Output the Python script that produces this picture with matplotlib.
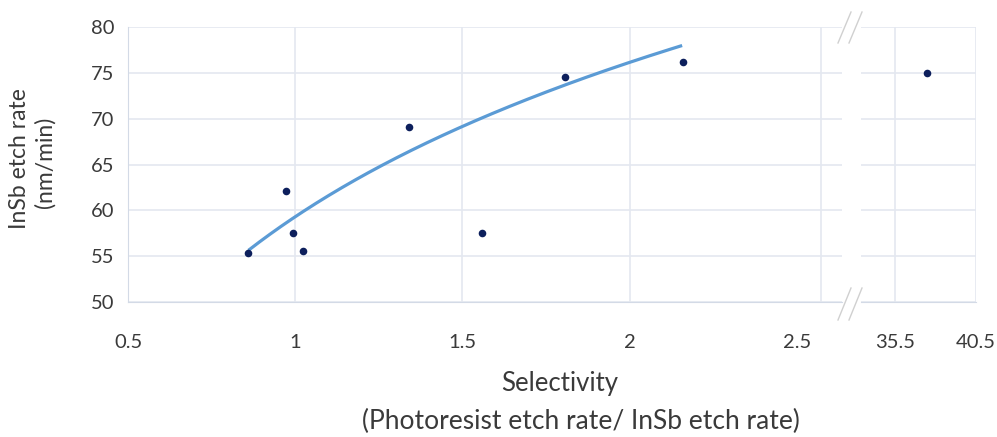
import matplotlib
matplotlib.use("Agg")
import matplotlib.pyplot as plt
from matplotlib.lines import Line2D
import numpy as np

# data
selectivity = [0.860, 0.973, 0.992, 1.023, 1.341, 1.559, 1.807, 2.159]
etch_rate = [55.3, 62.1, 57.5, 55.6, 69.1, 57.5, 74.6, 76.2]
outlier_sel = [37.46]
outlier_rate = [75.0]

# logarithmic trendline y = a*ln(x) + b, drawn between these x
trend_a = 24.3
trend_b = 59.3
trend_x_range = (0.86, 2.157)

left_ticks = [0.5, 1, 1.5, 2, 2.5]
left_tick_labels = ["0.5", "1", "1.5", "2", "2.5"]
right_ticks = [35.5, 40.5]
right_tick_labels = ["35.5", "40.5"]
y_ticks = [50, 55, 60, 65, 70, 75, 80]

plt.rcParams['font.family'] = ['Lato', 'DejaVu Sans']

DOT = '#0d1f5c'
LINE = '#5b9bd5'
GRID = '#e4e8f0'
SPINE = '#d3dae6'
TXT = '#3a3a3a'

fig = plt.figure(figsize=(9.97, 4.37), dpi=100)
W, H = 997, 437

def box(x0, x1, ytop, ybot):
    return [x0 / W, 1 - ybot / H, (x1 - x0) / W, (ybot - ytop) / H]

ax = fig.add_axes(box(128, 842, 27, 302))
ax2 = fig.add_axes(box(861, 976, 27, 302))

for a in (ax, ax2):
    a.set_ylim(50, 80)
    a.set_yticks(y_ticks)
    a.grid(axis='y', color=GRID, linewidth=1.2)
    a.set_axisbelow(True)
    for s in a.spines.values():
        s.set_visible(False)
    a.tick_params(length=0, labelsize=14.5, labelcolor=TXT, pad=10)

# left part
ax.set_xlim(0.5, 2.635)
ax.set_xticks(left_ticks)
ax.set_xticklabels(left_tick_labels)
ax.tick_params(axis='x', pad=23)
for gx in [1, 1.5, 2, 2.572]:
    ax.axvline(gx, color=GRID, linewidth=1.2, zorder=0)
ax.spines['left'].set_visible(True)
ax.spines['left'].set_color(SPINE)
ax.spines['bottom'].set_visible(True)
ax.spines['bottom'].set_color(SPINE)

xs = np.linspace(trend_x_range[0], trend_x_range[1], 200)
ax.plot(xs, trend_a * np.log(xs) + trend_b, color=LINE, linewidth=2.3, zorder=2,
        solid_capstyle='butt')
ax.scatter(selectivity, etch_rate, s=30, color=DOT, zorder=3, linewidths=0)

# right part
ax2.set_xlim(33.4, 40.5)
ax2.set_xticks(right_ticks)
ax2.set_xticklabels(right_tick_labels)
ax2.tick_params(axis='x', pad=23)
ax2.tick_params(axis='y', labelleft=False)
for gx in right_ticks:
    ax2.axvline(gx, color=GRID, linewidth=1.2, zorder=0)
ax2.spines['bottom'].set_visible(True)
ax2.spines['bottom'].set_color(SPINE)
ax2.scatter(outlier_sel, outlier_rate, s=30, color=DOT, zorder=3, linewidths=0)

# axis break marks
for ytop, ybot in [(12, 43), (288, 320)]:
    for dx in (-7, 4):
        fig.add_artist(Line2D([(845 + dx) / W, (858 + dx) / W],
                              [1 - ybot / H, 1 - ytop / H],
                              color='#d0d0d0', linewidth=1.0))

# axis titles
fig.text(20 / W, 1 - 159 / H, "InSb etch rate", rotation=90, ha='center', va='center',
         fontsize=16.5, color=TXT)
fig.text(45 / W, 1 - 162 / H, "(nm/min)", rotation=90, ha='center', va='center',
         fontsize=16.5, color=TXT)
fig.text(560 / W, 1 - 384 / H, "Selectivity", ha='center', va='center',
         fontsize=18.5, color=TXT)
fig.text(581 / W, 1 - 421 / H, "(Photoresist etch rate/ InSb etch rate)", ha='center',
         va='center', fontsize=19, color=TXT)

fig.savefig('out.png', dpi=100, facecolor='white')
